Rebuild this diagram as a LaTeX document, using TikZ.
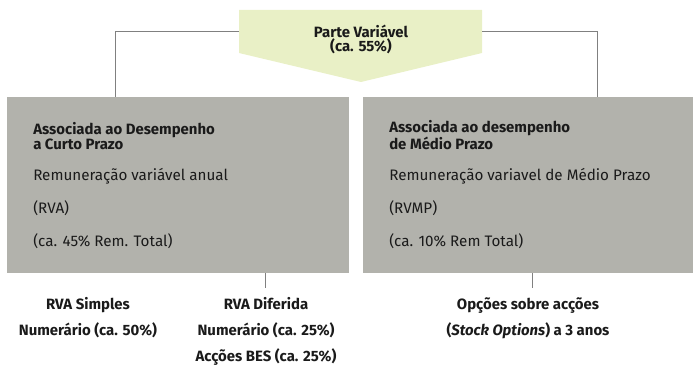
\documentclass[tikz,border=0pt]{standalone}
\usepackage{fontspec}
\setmainfont{Fira Sans}
\definecolor{penta}{HTML}{E9F0C6}
\definecolor{boxg}{HTML}{B2B2AC}
\definecolor{linec}{HTML}{808080}
\definecolor{txt}{HTML}{1A1A1A}
\begin{document}
\begin{tikzpicture}[x=0.75pt,y=-0.75pt,
  conn/.style={draw=linec,line width=0.75pt},
  graybox/.style={fill=boxg,draw=none},
  ttl/.style={anchor=base west,inner sep=0pt,font=\fontsize{11.2}{11}\selectfont\bfseries,text=txt,align=left},
  body/.style={anchor=base west,inner sep=0pt,font=\fontsize{11.4}{12}\selectfont,text=txt},
  below/.style={anchor=base,inner sep=0pt,font=\fontsize{11.2}{12}\selectfont\bfseries,text=txt}]
\useasboundingbox (0,0) rectangle (693,370);
% pentagon
\fill[penta] (239,10) -- (482,10) -- (482,53) -- (361,82) -- (239,53) -- cycle;
\node[anchor=base,inner sep=0pt,align=center,font=\fontsize{11.2}{11}\selectfont\bfseries,text=txt] (pv) at (361,52) {Parte Variável\\(ca. 55\%)};
\coordinate (pl) at (239,32);
\coordinate (pr) at (482,32);
% boxes
\path[graybox] (7,97) rectangle (349,273);
\node[inner sep=0pt,minimum width=342*0.75pt,minimum height=176*0.75pt] (lb) at (178,185) {};
\path[graybox] (363,97) rectangle (693,273);
\node[inner sep=0pt,minimum width=330*0.75pt,minimum height=176*0.75pt] (rb) at (528,185) {};
% connectors from pentagon
\draw[conn] (pl) -| (lb.north -| 115,0);
\draw[conn] (pr) -| (rb.north -| 597,0);
% left box text
\node[ttl] (lt) at (33,149.5) {Associada ao Desempenho\\a Curto Prazo};
\node[body] (l1) at (33,181) {Remuneração variável anual};
\node[body] (l2) at (33,214) {(RVA)};
\node[body] (l3) at (33,247) {(ca. 45\% Rem. Total)};
% right box text
\node[ttl] (rt) at (389,149.5) {Associada ao desempenho\\de Médio Prazo};
\node[body] (r1) at (389,181) {Remuneração variavel de Médio Prazo};
\node[body] (r2) at (389,214) {(RVMP)};
\node[body] (r3) at (389,247) {(ca. 10\% Rem Total)};
% bottom connectors
\coordinate (ld) at (265,288);
\coordinate (rd) at (532,288);
\draw[conn] (lb.south -| ld) -- (ld);
\draw[conn] (rb.south -| rd) -- (rd);
% bottom texts
\node[below] (s1) at (88,310) {RVA Simples};
\node[below] (s2) at (88,336) {Numerário (ca. 50\%)};
\node[below] (d1) at (266,310) {RVA Diferida};
\node[below] (d2) at (266,336) {Numerário (ca. 25\%)};
\node[below] (d3) at (266,362) {Acções BES (ca. 25\%)};
\node[below] (o1) at (528,310) {Opções sobre acções};
\node[below] (o2) at (528,336) {(\textit{Stock Options}) a 3 anos};
\end{tikzpicture}
\end{document}
